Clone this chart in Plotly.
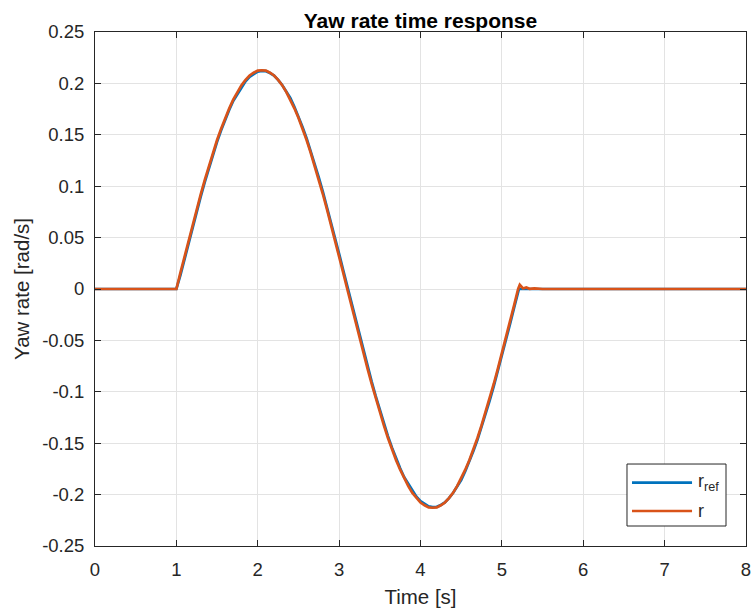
import plotly.graph_objects as go

# ---- data ----
# sampling grid of the manoeuvre part: 1.00 s .. 5.20 s every 0.05 s
t_grid = [round(1.0 + 0.05 * k, 2) for k in range(85)]

r_ref_grid = [0.0, 0.0134, 0.0293, 0.0449, 0.0604, 0.0754, 0.0901, 0.1042, 0.1179, 0.1307,
              0.1431, 0.1543, 0.1649, 0.1744, 0.1832, 0.1899, 0.1967, 0.2020, 0.2064, 0.2093,
              0.2115, 0.2121, 0.2119, 0.2101, 0.2076, 0.2034, 0.1985, 0.1921, 0.1858, 0.1772,
              0.1681, 0.1577, 0.1467, 0.1347, 0.1221, 0.1086, 0.0947, 0.0800, 0.0652, 0.0497,
              0.0343, 0.0184, 0.0025,
              -0.0134, -0.0293, -0.0449, -0.0604, -0.0754, -0.0901, -0.1042, -0.1179, -0.1307,
              -0.1431, -0.1543, -0.1649, -0.1744, -0.1832, -0.1899, -0.1967, -0.2020, -0.2064,
              -0.2093, -0.2115, -0.2121, -0.2119, -0.2101, -0.2076, -0.2034, -0.1985, -0.1921,
              -0.1858, -0.1772, -0.1681, -0.1577, -0.1467, -0.1347, -0.1221, -0.1086, -0.0947,
              -0.0800, -0.0652, -0.0497, -0.0343, -0.0184, -0.0025]

r_grid = [0.0, 0.0159, 0.0318, 0.0473, 0.0628, 0.0777, 0.0924, 0.1064, 0.1200, 0.1327,
          0.1449, 0.1560, 0.1665, 0.1758, 0.1845, 0.1917, 0.1983, 0.2034, 0.2077, 0.2104,
          0.2124, 0.2128, 0.2124, 0.2104, 0.2077, 0.2034, 0.1983, 0.1917, 0.1845, 0.1758,
          0.1665, 0.1560, 0.1449, 0.1327, 0.1200, 0.1064, 0.0924, 0.0777, 0.0628, 0.0473,
          0.0318, 0.0159, 0.0,
          -0.0159, -0.0318, -0.0473, -0.0628, -0.0777, -0.0924, -0.1064, -0.1200, -0.1327,
          -0.1449, -0.1560, -0.1665, -0.1758, -0.1845, -0.1917, -0.1983, -0.2034, -0.2077,
          -0.2104, -0.2124, -0.2128, -0.2124, -0.2104, -0.2077, -0.2034, -0.1983, -0.1917,
          -0.1845, -0.1758, -0.1665, -0.1560, -0.1449, -0.1327, -0.1200, -0.1064, -0.0924,
          -0.0777, -0.0628, -0.0473, -0.0318, -0.0159, 0.0]

t_ref_tail = [5.21, 8.0]
r_ref_tail = [0.0, 0.0]
t_r_tail = [5.22, 5.26, 5.30, 5.34, 5.40, 5.50, 8.0]
r_r_tail = [0.0040, 0.0005, 0.0015, 0.0002, 0.0006, 0.0, 0.0]

t_ref = [0.0] + t_grid + t_ref_tail
r_ref = [0.0] + r_ref_grid + r_ref_tail
t_r = [0.0] + t_grid + t_r_tail
r = [0.0] + r_grid + r_r_tail

x_ticks = [0, 1, 2, 3, 4, 5, 6, 7, 8]
y_ticks = [-0.25, -0.2, -0.15, -0.1, -0.05, 0, 0.05, 0.1, 0.15, 0.2, 0.25]
y_tick_text = ["-0.25", "-0.2", "-0.15", "-0.1", "-0.05", "0", "0.05", "0.1", "0.15", "0.2", "0.25"]

BLUE = "#0072BD"
ORANGE = "#D95319"
FONT = "Liberation Sans, Arial, Helvetica, sans-serif"

fig = go.Figure()
fig.add_trace(go.Scatter(x=t_ref, y=r_ref, mode="lines", line=dict(color=BLUE, width=2.7),
                         showlegend=False, name="r_ref"))
fig.add_trace(go.Scatter(x=t_r, y=r, mode="lines", line=dict(color=ORANGE, width=2.7),
                         showlegend=False, name="r"))

axis_common = dict(showline=True, linecolor="#262626", linewidth=1, mirror="allticks",
                   ticks="inside", ticklen=6, tickcolor="#262626", automargin=False,
                   showgrid=True, gridcolor="#e3e3e3", gridwidth=1, zeroline=False,
                   tickfont=dict(family=FONT, size=18.5, color="#262626"))

fig.update_xaxes(range=[0, 8], tickvals=x_ticks, ticklabelstandoff=7,
                 title=dict(text="Time [s]", font=dict(family=FONT, size=20.5, color="#262626"),
                            standoff=10),
                 **axis_common)
fig.update_yaxes(range=[-0.25, 0.25], tickvals=y_ticks, ticktext=y_tick_text, ticklabelstandoff=6,
                 title=dict(text="Yaw rate [rad/s]", font=dict(family=FONT, size=20.5, color="#262626"),
                            standoff=6),
                 **axis_common)

# legend drawn manually (MATLAB style)
shapes = [
    dict(type="rect", xref="paper", yref="paper", x0=0.8172, x1=0.9693, y0=0.0389, y1=0.1595,
         line=dict(color="#262626", width=1), fillcolor="white", layer="above"),
    dict(type="line", xref="paper", yref="paper", x0=0.8249, x1=0.9171, y0=0.1232, y1=0.1232,
         line=dict(color=BLUE, width=2.7), layer="above"),
    dict(type="line", xref="paper", yref="paper", x0=0.8249, x1=0.9171, y0=0.0681, y1=0.0681,
         line=dict(color=ORANGE, width=2.7), layer="above"),
]
annotations = [
    dict(xref="paper", yref="paper", x=0.9232, y=0.1232, text="r<sub>ref</sub>", showarrow=False,
         xanchor="left", yanchor="middle", font=dict(family=FONT, size=18, color="#262626")),
    dict(xref="paper", yref="paper", x=0.9232, y=0.0681, text="r", showarrow=False,
         xanchor="left", yanchor="middle", font=dict(family=FONT, size=18, color="#262626")),
]

fig.update_layout(
    width=754, height=615,
    margin=dict(l=95, r=8, t=32, b=69, autoexpand=False),
    paper_bgcolor="white", plot_bgcolor="white",
    title=dict(text="<b>Yaw rate time response</b>", x=0.5, xref="paper", xanchor="center",
               y=1, yref="paper", yanchor="bottom", pad=dict(b=4),
               font=dict(family=FONT, size=21, color="#000000")),
    shapes=shapes, annotations=annotations,
)

fig.write_html("out.html")
